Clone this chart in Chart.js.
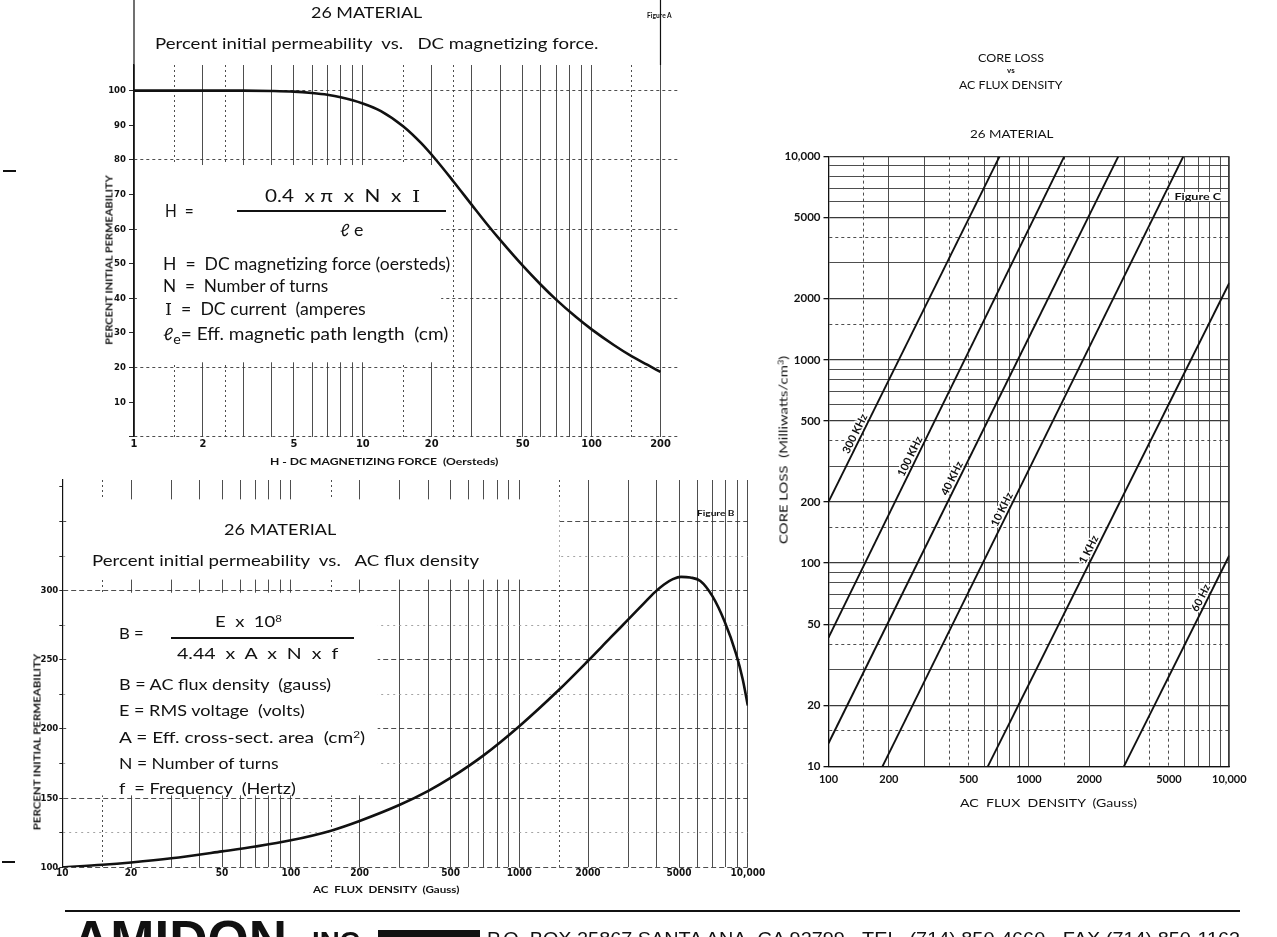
<!DOCTYPE html>
<html>
<head>
<meta charset="utf-8">
<title>26 Material</title>
<script src="https://cdn.jsdelivr.net/npm/chart.js@4.4.1/dist/chart.umd.min.js"></script>
<style>
  html, body { margin: 0; padding: 0; background: #fff; }
  #page { position: relative; width: 1277px; height: 937px; overflow: hidden; background: #fff; }
  #page canvas { position: absolute; left: 0; top: 0; }
  .t { position: absolute; white-space: nowrap; color: #111; font-family: Lato, 'Noto Sans', sans-serif; transform-origin: 0 50%; }
  .t sup { font-size: 0.62em; line-height: 0; vertical-align: 0.55em; }
  .t sub { font-size: 0.75em; line-height: 0; vertical-align: -0.35em; }
  .rule { position: absolute; background: #111; }
</style>
</head>
<body>
<div id="page">
  <canvas id="figA" width="1277" height="937"></canvas>
  <canvas id="figB" width="1277" height="937"></canvas>
  <canvas id="figC" width="1277" height="937"></canvas>
</div>
<script>
// ---- Figure A: % initial permeability vs DC magnetizing force ----
const hForce = [1, 2, 3, 4, 5, 6, 7, 8, 10, 12, 15, 18, 21, 25, 30, 35, 40, 50, 60, 70, 85, 100, 125, 150, 175, 200];
const permDC = [100, 100, 100, 99.9, 99.7, 99.3, 98.8, 98.1, 96.3, 94.1, 89.7, 84.8, 79.8, 73.6, 66.9, 61.3, 56.7, 49.4, 43.9, 39.6, 34.7, 31, 26.5, 23.2, 20.8, 18.7];
const hGrid = [1, 1.5, 2, 2.5, 3, 4, 5, 6, 7, 8, 9, 10, 15, 20, 25, 30, 40, 50, 60, 70, 80, 90, 100, 150, 200];
const hLabels = [1, 2, 5, 10, 20, 50, 100, 200];
const permDCTicks = [0, 10, 20, 30, 40, 50, 60, 70, 80, 90, 100];

// ---- Figure B: % initial permeability vs AC flux density ----
const fluxB = [10, 15, 20, 30, 50, 70, 100, 150, 200, 300, 400, 500, 700, 1000, 1500, 2000, 2500, 3000, 3500, 3900,
               4300, 4700, 5100, 5600, 6200, 7000, 7900, 8900, 9500, 10000];
const permAC = [100, 101.8, 103.5, 106.5, 111.5, 115, 119.5, 126.5, 133.5, 145.2, 155.3, 164.6, 181.1, 202, 228.7, 249.3, 265.8, 279.2, 290.6, 298.6,
                304.5, 308.3, 310, 309.5, 307, 296, 278, 254, 236, 217];
const fluxBGrid = [10, 15, 20, 30, 40, 50, 60, 70, 80, 90, 100, 150, 200, 300, 400, 500, 600, 700, 800, 900, 1000, 1500, 2000, 3000, 4000, 5000, 6000, 7000, 8000, 9000, 10000];
const fluxBLabels = [10, 20, 50, 100, 200, 500, 1000, 2000, 5000, 10000];
const permACTicks = [100, 125, 150, 175, 200, 225, 250, 275, 300, 325, 350, 375];
const permACLabels = [100, 150, 200, 250, 300];

// ---- Figure C: core loss vs AC flux density ----
const freqNames = ['300 KHz', '100 KHz', '40 KHz', '10 KHz', '1 KHz', '60 Hz'];
const startFlux = [100, 100, 100, 186, 624, 2980];
const startLoss = [200, 43, 13, 10, 10, 10];
const endFlux = [713, 1500, 2790, 5890, 10000, 10000];
const endLoss = [10000, 10000, 10000, 10000, 2390, 109];
const nameAtFlux = [145, 273, 442, 785, 2130, 7710];
const fluxCGrid = [100, 150, 200, 300, 400, 500, 600, 700, 800, 900, 1000, 1500, 2000, 3000, 4000, 5000, 6000, 7000, 8000, 9000, 10000];
const fluxCLabels = [100, 200, 500, 1000, 2000, 5000, 10000];
const lossCGrid = [10, 15, 20, 30, 40, 50, 60, 70, 80, 90, 100, 150, 200, 300, 400, 500, 600, 700, 800, 900,
                   1000, 1500, 2000, 3000, 4000, 5000, 6000, 7000, 8000, 9000, 10000];
const lossCLabels = [10, 20, 50, 100, 200, 500, 1000, 2000, 5000, 10000];

const NARROW = "'Liberation Sans Narrow', 'DejaVu Sans Condensed', 'Liberation Sans', sans-serif";
const ROUND = "Lato, 'Noto Sans', sans-serif";
const INK = '#111';
const GRID = '#3a3a3a';

function fmt(v) { return v === 10000 ? '10,000' : String(v); }
function mant(v) { return Math.round(v / Math.pow(10, Math.floor(Math.log10(v))) * 10) / 10; }
function fixTicks(values) { return s => { s.ticks = values.map(v => ({ value: v })); }; }

// white-out panels and axis lines that run above the plot
const sheetPlugin = {
  id: 'sheet',
  beforeDatasetsDraw(chart, args, opts) {
    const { ctx, scales: { x, y } } = chart;
    ctx.save();
    ctx.fillStyle = '#fff';
    (opts.masks || []).forEach(([xa, xb, ya, yb]) => {
      const l = x.getPixelForValue(xa), r = x.getPixelForValue(xb);
      const t = y.getPixelForValue(yb), b = y.getPixelForValue(ya);
      ctx.fillRect(l, t, r - l, b - t);
    });
    ctx.restore();
  },
  afterDraw(chart, args, opts) {
    const { ctx, chartArea, scales: { x } } = chart;
    ctx.save();
    ctx.strokeStyle = INK;
    ctx.lineWidth = 1.2;
    (opts.extendUp || []).forEach(v => {
      const px = x.getPixelForValue(v);
      ctx.beginPath();
      ctx.moveTo(px, 0);
      ctx.lineTo(px, chartArea.top);
      ctx.stroke();
    });
    ctx.restore();
  }
};

// frequency names written along the core loss lines
const lineNamePlugin = {
  id: 'lineNames',
  afterDatasetsDraw(chart, args, opts) {
    if (!opts.names) return;
    const { ctx, scales: { x, y } } = chart;
    ctx.save();
    ctx.font = 'bold 11px ' + ROUND;
    ctx.textAlign = 'center';
    ctx.textBaseline = 'middle';
    opts.names.forEach((name, i) => {
      const lx0 = Math.log10(startFlux[i]), lx1 = Math.log10(endFlux[i]);
      const ly0 = Math.log10(startLoss[i]), ly1 = Math.log10(endLoss[i]);
      const t = (Math.log10(nameAtFlux[i]) - lx0) / (lx1 - lx0);
      const loss = Math.pow(10, ly0 + t * (ly1 - ly0));
      const px = x.getPixelForValue(nameAtFlux[i]), py = y.getPixelForValue(loss);
      const a = Math.atan2(y.getPixelForValue(endLoss[i]) - y.getPixelForValue(startLoss[i]),
                           x.getPixelForValue(endFlux[i]) - x.getPixelForValue(startFlux[i]));
      ctx.save();
      ctx.translate(px + Math.sin(a) * 6.5, py - Math.cos(a) * 6.5);
      ctx.rotate(a);
      ctx.lineWidth = 3;
      ctx.strokeStyle = '#fff';
      ctx.strokeText(name, 0, 0);
      ctx.fillStyle = INK;
      ctx.fillText(name, 0, 0);
      ctx.restore();
    });
    ctx.restore();
  }
};

const common = {
  responsive: false,
  animation: false,
  events: [],
};

// Figure A
new Chart(document.getElementById('figA'), {
  type: 'line',
  data: {
    datasets: [{
      data: hForce.map((h, i) => ({ x: h, y: permDC[i] })),
      borderColor: INK, borderWidth: 2.6, pointRadius: 0, fill: false,
      cubicInterpolationMode: 'monotone'
    }]
  },
  options: {
    ...common,
    layout: { padding: { left: 0, top: 65, right: 1277 - 678.6, bottom: 937 - 436.7 - 20 } },
    plugins: {
      legend: { display: false }, tooltip: { enabled: false },
      sheet: { masks: [[1.03, 22, 21.5, 78.5]], extendUp: [1, 200] }
    },
    scales: {
      x: {
        type: 'logarithmic', min: 1, max: 240,
        afterFit: s => { s.height = 20; },
        afterBuildTicks: fixTicks(hGrid),
        ticks: {
          autoSkip: false, maxRotation: 0, minRotation: 0, padding: 1, color: INK,
          font: { family: NARROW, size: 11, weight: 'bold' },
          callback: v => hLabels.includes(v) ? String(v) : ''
        },
        grid: { color: GRID, lineWidth: 0.9, drawTicks: false },
        border: { display: false, dash: c => (c.tick && [1.5, 2.5, 15, 25, 150].includes(c.tick.value)) ? [2, 3] : [] }
      },
      y: {
        type: 'linear', min: 0, max: 107.4,
        afterFit: s => { s.width = 134; },
        afterBuildTicks: fixTicks(permDCTicks),
        ticks: {
          padding: 3, color: INK,
          font: { family: NARROW, size: 9.5, weight: 'bold' },
          callback: v => v > 0 ? String(v) : ''
        },
        grid: {
          color: c => (c.tick && c.tick.value % 20 === 0) ? GRID : 'rgba(0,0,0,0)',
          lineWidth: 0.9, tickLength: 5, tickColor: INK
        },
        border: { display: true, color: INK, width: 1.3, dash: [3, 3] }
      }
    }
  },
  plugins: [sheetPlugin]
});

// Figure B
new Chart(document.getElementById('figB'), {
  type: 'line',
  data: {
    datasets: [{
      data: fluxB.map((b, i) => ({ x: b, y: permAC[i] })),
      borderColor: INK, borderWidth: 2.6, pointRadius: 0, fill: false,
      cubicInterpolationMode: 'monotone'
    }]
  },
  options: {
    ...common,
    layout: { padding: { left: 0, top: 480, right: 1277 - 747.8, bottom: 937 - 867.3 - 20 } },
    plugins: {
      legend: { display: false }, tooltip: { enabled: false },
      sheet: { masks: [[10.4, 240, 152, 298.5], [10.4, 1500, 308, 366]] }
    },
    scales: {
      x: {
        type: 'logarithmic', min: 10, max: 10000,
        afterFit: s => { s.height = 20; },
        afterBuildTicks: fixTicks(fluxBGrid),
        ticks: {
          autoSkip: false, maxRotation: 0, minRotation: 0, padding: 0, color: INK,
          font: { family: NARROW, size: 10, weight: 'bold' },
          callback: v => fluxBLabels.includes(v) ? fmt(v) : ''
        },
        grid: { color: GRID, lineWidth: 0.9, drawTicks: false },
        border: { display: false, dash: c => (c.tick && [15, 150, 1500].includes(c.tick.value)) ? [2, 3] : [] }
      },
      y: {
        type: 'linear', min: 100, max: 380,
        afterFit: s => { s.width = 62.3; },
        afterBuildTicks: fixTicks(permACTicks),
        ticks: {
          padding: 1, color: INK,
          font: { family: NARROW, size: 9.5, weight: 'bold' },
          callback: v => permACLabels.includes(v) ? String(v) : ''
        },
        grid: {
          color: c => !c.tick ? GRID : (c.tick.value % 50 === 0 ? GRID : (c.tick.value === 375 ? 'rgba(0,0,0,0)' : '#9a9a9a')),
          lineWidth: 0.9, tickLength: 3, tickColor: INK
        },
        border: { display: true, color: INK, width: 1.2, dash: c => (c.tick && c.tick.value % 50 === 0) ? [5, 3] : [2, 4] }
      }
    }
  },
  plugins: [sheetPlugin]
});

// Figure C
new Chart(document.getElementById('figC'), {
  type: 'line',
  data: {
    datasets: freqNames.map((name, i) => ({
      label: name,
      data: [{ x: startFlux[i], y: startLoss[i] }, { x: endFlux[i], y: endLoss[i] }],
      borderColor: INK, borderWidth: 1.9, pointRadius: 0, fill: false, tension: 0
    }))
  },
  options: {
    ...common,
    layout: { padding: { left: 780, top: 156.6, right: 1277 - 1229.3, bottom: 937 - 766.4 - 20 } },
    plugins: {
      legend: { display: false }, tooltip: { enabled: false },
      lineNames: { names: freqNames }
    },
    scales: {
      x: {
        type: 'logarithmic', min: 100, max: 10000,
        afterFit: s => { s.height = 20; },
        afterBuildTicks: fixTicks(fluxCGrid),
        ticks: {
          autoSkip: false, maxRotation: 0, minRotation: 0, padding: 6, color: INK,
          font: { family: ROUND, size: 11, weight: 'bold' },
          callback: v => fluxCLabels.includes(v) ? fmt(v) : ''
        },
        grid: {
          color: GRID, drawTicks: false,
          lineWidth: c => (c.tick && c.tick.value === 10000) ? 1.8 : 0.9
        },
        border: { display: true, color: INK, width: 1.2, dash: c => (c.tick && [1.5, 4, 5].includes(mant(c.tick.value)) && c.tick.value !== 1000) ? [3, 3] : [] }
      },
      y: {
        type: 'logarithmic', min: 10, max: 10000,
        afterFit: s => { s.width = 48.5; },
        afterBuildTicks: fixTicks(lossCGrid),
        ticks: {
          autoSkip: false, padding: 3, color: INK,
          font: { family: ROUND, size: 11.5, weight: 'bold' },
          callback: v => lossCLabels.includes(v) ? fmt(v) : ''
        },
        grid: {
          color: GRID, tickLength: 5,
          tickColor: c => (c.tick && lossCLabels.includes(c.tick.value)) ? INK : 'rgba(0,0,0,0)',
          lineWidth: c => (c.tick && [1, 2, 5].includes(mant(c.tick.value))) ? 1.3 : 0.9
        },
        border: { display: true, color: INK, width: 1.3, dash: c => (c.tick && [1.5, 4].includes(mant(c.tick.value))) ? [3, 3] : [] }
      }
    }
  },
  plugins: [lineNamePlugin]
});

// ---- printed text on the sheet ----
const I_SERIF = "<span style=\"font-family:'DejaVu Serif',serif\">I</span>";
const texts = [
  // Figure A
  { s: '26 MATERIAL', x0: 311, x1: 422, y: 12, size: 15 },
  { s: 'Percent initial permeability&nbsp; vs.&nbsp;&nbsp; DC magnetizing force.', x0: 155, x1: 598, y: 43, size: 16 },
  { s: 'Figure A', x0: 647, x1: 672, y: 15, size: 8, w: 700 },
  { s: 'H &nbsp;=', x0: 165, x1: 194, y: 210, size: 17 },
  { s: '0.4 &nbsp;x π &nbsp;x &nbsp;N &nbsp;x &nbsp;' + I_SERIF, x0: 265, x1: 420, y: 195, size: 17 },
  { s: 'ℓ e', x0: 340, x1: 363, y: 229, size: 17 },
  { s: 'H &nbsp;= &nbsp;DC magnetizing force (oersteds)', x0: 163, x1: 450, y: 263, size: 17 },
  { s: 'N &nbsp;= &nbsp;Number of turns', x0: 163, x1: 328, y: 285, size: 17 },
  { s: I_SERIF + ' &nbsp;= &nbsp;DC current &nbsp;(amperes', x0: 165, x1: 366, y: 308, size: 17 },
  { s: 'ℓ<sub>e</sub>= Eff. magnetic path length &nbsp;(cm)', x0: 163, x1: 448, y: 333, size: 17 },
  { s: 'H - DC MAGNETIZING FORCE &nbsp;(Oersteds)', x0: 270, x1: 498, y: 461, size: 9, w: 700 },
  { s: 'PERCENT INITIAL PERMEABILITY', xc: 109, yc: 260, len: 170, size: 9, w: 700, rot: true },
  // Figure B
  { s: '26 MATERIAL', x0: 224, x1: 336, y: 529, size: 15 },
  { s: 'Percent initial permeability&nbsp; vs.&nbsp;&nbsp; AC flux density', x0: 92, x1: 479, y: 560, size: 16 },
  { s: 'Figure B', x0: 697, x1: 735, y: 513, size: 8, w: 700 },
  { s: 'B =', x0: 119, x1: 144, y: 633, size: 16 },
  { s: 'E &nbsp;x &nbsp;10<sup>8</sup>', x0: 215, x1: 282, y: 621, size: 16 },
  { s: '4.44 &nbsp;x &nbsp;A &nbsp;x &nbsp;N &nbsp;x &nbsp;f', x0: 177, x1: 338, y: 653, size: 16 },
  { s: 'B = AC flux density &nbsp;(gauss)', x0: 119, x1: 331, y: 684, size: 16 },
  { s: 'E = RMS voltage &nbsp;(volts)', x0: 119, x1: 305, y: 710, size: 16 },
  { s: 'A = Eff. cross-sect. area &nbsp;(cm<sup>2</sup>)', x0: 119, x1: 365, y: 737, size: 16 },
  { s: 'N = Number of turns', x0: 119, x1: 278, y: 763, size: 16 },
  { s: 'f &nbsp;= Frequency &nbsp;(Hertz)', x0: 119, x1: 296, y: 788, size: 16 },
  { s: 'AC &nbsp;FLUX &nbsp;DENSITY &nbsp;(Gauss)', x0: 313, x1: 460, y: 889, size: 9, w: 700 },
  { s: 'PERCENT INITIAL PERMEABILITY', xc: 37, yc: 742, len: 177, size: 9, w: 700, rot: true },
  // Figure C
  { s: 'CORE LOSS', x0: 978, x1: 1044, y: 57, size: 11 },
  { s: 'vs', x0: 1007, x1: 1015, y: 70, size: 7, w: 700 },
  { s: 'AC FLUX DENSITY', x0: 959, x1: 1063, y: 84, size: 11 },
  { s: '26 MATERIAL', x0: 970, x1: 1053, y: 133, size: 11 },
  { s: 'Figure C', x0: 1173, x1: 1222, y: 196, size: 9, w: 700, bg: '#fff' },
  { s: 'AC &nbsp;FLUX &nbsp;DENSITY &nbsp;(Gauss)', x0: 960, x1: 1137, y: 802, size: 11 },
  { s: 'CORE LOSS &nbsp;(Milliwatts/cm<sup>3</sup>)', xc: 783, yc: 450, len: 188, size: 11, rot: true },
  // footer
  { s: 'AMIDON', x0: 72, x1: 287, top: 913, size: 53, w: 700, f: "'Liberation Sans', Arial, sans-serif" },
  { s: 'INC', x0: 312, x1: 360, top: 928, size: 26, w: 700, f: "'Liberation Sans', Arial, sans-serif" },
  { s: 'P.O. BOX 25867 SANTA ANA, CA 92799 - TEL. (714) 850-4660 - FAX (714) 850-1163', x0: 487, x1: 1240, top: 930, size: 18, f: "'Liberation Sans', Arial, sans-serif" }
];

const rules = [
  [237, 446, 210, 2],     // Figure A fraction bar
  [171, 354, 637, 1.6],   // Figure B fraction bar
  [65, 1240, 910, 2],     // footer rule
  [378, 480, 930, 10],    // footer black block
  [3, 16, 170, 2],        // left margin marks
  [2, 15, 861, 2]
];

const page = document.getElementById('page');
texts.forEach(t => {
  const d = document.createElement('div');
  d.className = 't';
  d.innerHTML = t.s;
  d.style.fontSize = t.size + 'px';
  d.style.lineHeight = t.size + 'px';
  if (t.w) d.style.fontWeight = t.w;
  if (t.f) d.style.fontFamily = t.f;
  if (t.bg) { d.style.background = t.bg; d.style.padding = '0 1px'; }
  page.appendChild(d);
  const w = d.offsetWidth;
  if (t.rot) {
    d.style.left = t.xc + 'px';
    d.style.top = t.yc + 'px';
    d.style.transformOrigin = '50% 50%';
    d.style.transform = 'translate(-50%,-50%) rotate(-90deg) scaleX(' + (t.len / w) + ')';
  } else {
    d.style.left = t.x0 + 'px';
    d.style.top = (t.top !== undefined ? t.top : t.y - t.size / 2) + 'px';
    d.style.transform = 'scaleX(' + ((t.x1 - t.x0) / w) + ')';
  }
});
rules.forEach(([x0, x1, y, h]) => {
  const r = document.createElement('div');
  r.className = 'rule';
  r.style.left = x0 + 'px';
  r.style.width = (x1 - x0) + 'px';
  r.style.top = y + 'px';
  r.style.height = h + 'px';
  page.appendChild(r);
});
</script>
</body>
</html>
